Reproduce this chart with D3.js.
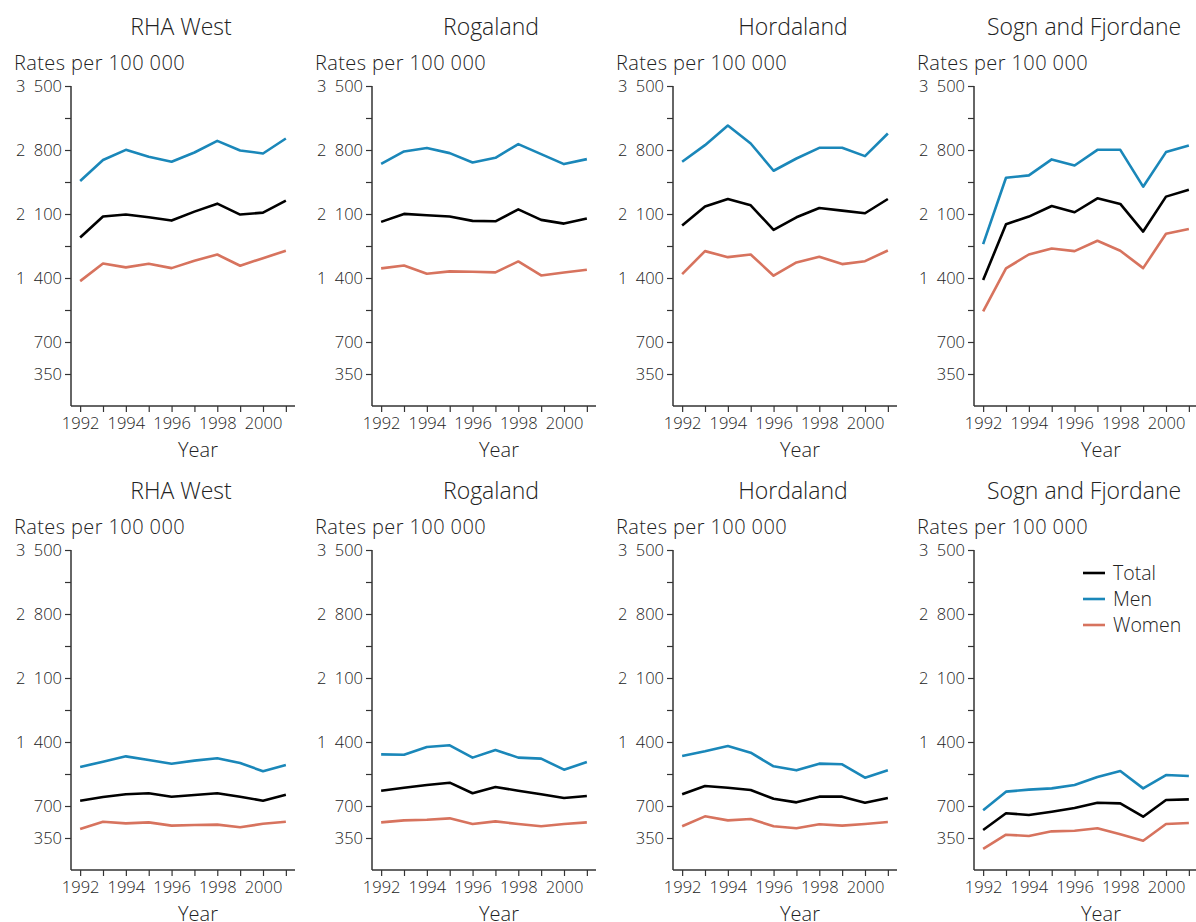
<!DOCTYPE html>
<html>
<head>
<meta charset="utf-8">
<script src="https://cdn.jsdelivr.net/npm/d3@7"></script>
<style>
  body { margin: 0; background: #fff; }
  svg text { font-family: "Open Sans", sans-serif; fill: #222; font-weight: 300; }
</style>
</head>
<body>
<script>
const width = 1196;
const height = 922;

const years = [1992, 1993, 1994, 1995, 1996, 1997, 1998, 1999, 2000, 2001];
const regions = ["RHA West", "Rogaland", "Hordaland", "Sogn and Fjordane"];
const seriesNames = ["Total", "Men", "Women"];
const yTickValues = [350, 700, 1050, 1400, 1750, 2100, 2450, 2800, 3150, 3500];
const yTickLabels = [350, 700, 1400, 2100, 2800, 3500];
const xTickLabels = [1992, 1994, 1996, 1998, 2000];

// upper row
const upperRhaWestTotal = [1843, 2072, 2094, 2064, 2028, 2126, 2213, 2094, 2115, 2246];
const upperRhaWestMen = [2461, 2690, 2802, 2726, 2671, 2773, 2900, 2795, 2762, 2926];
const upperRhaWestWomen = [1366, 1559, 1516, 1556, 1508, 1588, 1657, 1534, 1617, 1698];

const upperRogalandTotal = [2014, 2101, 2086, 2072, 2025, 2020, 2151, 2036, 1995, 2050];
const upperRogalandMen = [2649, 2784, 2821, 2766, 2664, 2715, 2864, 2755, 2646, 2700];
const upperRogalandWomen = [1505, 1537, 1447, 1472, 1468, 1461, 1581, 1428, 1461, 1490];

const upperHordalandTotal = [1973, 2181, 2264, 2195, 1926, 2064, 2166, 2137, 2108, 2264];
const upperHordalandMen = [2671, 2853, 3067, 2871, 2573, 2707, 2824, 2824, 2733, 2980];
const upperHordalandWomen = [1443, 1694, 1628, 1657, 1425, 1570, 1632, 1552, 1584, 1701];

const upperSognTotal = [1377, 1988, 2072, 2188, 2119, 2272, 2210, 1908, 2290, 2366];
const upperSognMen = [1770, 2497, 2522, 2697, 2631, 2802, 2802, 2399, 2777, 2849];
const upperSognWomen = [1036, 1505, 1657, 1723, 1694, 1807, 1698, 1508, 1883, 1937];

// lower row
const lowerRhaWestTotal = [758, 798, 828, 839, 802, 820, 839, 802, 758, 824];
const lowerRhaWestMen = [1127, 1185, 1243, 1203, 1163, 1196, 1222, 1170, 1080, 1148];
const lowerRhaWestWomen = [448, 528, 510, 521, 485, 492, 496, 467, 506, 528];

const lowerRogalandTotal = [867, 900, 930, 955, 839, 908, 867, 828, 788, 810];
const lowerRogalandMen = [1265, 1261, 1345, 1364, 1229, 1313, 1229, 1218, 1097, 1181];
const lowerRogalandWomen = [521, 543, 550, 565, 503, 532, 503, 478, 503, 521];

const lowerHordalandTotal = [828, 919, 900, 875, 780, 740, 802, 802, 736, 788];
const lowerHordalandMen = [1247, 1298, 1356, 1283, 1134, 1090, 1163, 1156, 1010, 1090];
const lowerHordalandWomen = [478, 587, 543, 558, 478, 456, 500, 485, 503, 525];

const lowerSognTotal = [438, 620, 602, 638, 678, 736, 729, 583, 766, 773];
const lowerSognMen = [653, 857, 879, 893, 930, 1017, 1083, 893, 1039, 1028];
const lowerSognWomen = [230, 386, 372, 423, 430, 456, 390, 320, 503, 514];

const colors = { Total: "#000000", Men: "#1a87b9", Women: "#d7735e" };

const panels = [
    [[upperRhaWestTotal, upperRhaWestMen, upperRhaWestWomen],
     [upperRogalandTotal, upperRogalandMen, upperRogalandWomen],
     [upperHordalandTotal, upperHordalandMen, upperHordalandWomen],
     [upperSognTotal, upperSognMen, upperSognWomen]],
    [[lowerRhaWestTotal, lowerRhaWestMen, lowerRhaWestWomen],
     [lowerRogalandTotal, lowerRogalandMen, lowerRogalandWomen],
     [lowerHordalandTotal, lowerHordalandMen, lowerHordalandWomen],
     [lowerSognTotal, lowerSognMen, lowerSognWomen]]
];

// en space as thousands separator, like "3 500"
const locale = d3.formatLocale({ decimal: ",", thousands: "\u2002", grouping: [3] });
const fmt = locale.format(",d");

let svg = d3.select("body")
    .append("svg")
    .attr("width", width)
    .attr("height", height);

const plotW = 224;
const plotH = 320;
const colLeft = [71, 372, 673, 974];
const rowTop = [86, 550];
const titleShift = [110, 119, 120, 110];

let xScale = d3.scaleLinear().domain([1991.6, 2001.4]).range([0, plotW]);
let yScale = d3.scaleLinear().domain([0, 3500]).range([plotH, 0]);

let line = d3.line()
    .x((d, i) => xScale(years[i]))
    .y(d => yScale(d));

panels.forEach((row, r) => {
    row.forEach((series, c) => {
        let g = svg.append("g")
            .attr("transform", `translate(${colLeft[c]}, ${rowTop[r]})`);

        g.append("text")
            .text(regions[c])
            .attr("x", titleShift[c])
            .attr("y", -51)
            .attr("text-anchor", "middle")
            .style("font-size", "23px");

        g.append("text")
            .text("Rates per 100 000")
            .attr("x", -57)
            .attr("y", -16)
            .style("font-size", "20px")
            .style("letter-spacing", "0.4px");

        let leftAxis = d3.axisLeft(yScale)
            .tickValues(yTickValues)
            .tickSize(6)
            .tickPadding(3)
            .tickFormat(d => yTickLabels.includes(d) ? fmt(d) : "");

        let bottomAxis = d3.axisBottom(xScale)
            .tickValues(years)
            .tickSize(6)
            .tickPadding(5)
            .tickFormat(d => xTickLabels.includes(d) ? d : "");

        let la = g.append("g").call(leftAxis);
        let ba = g.append("g").attr("transform", `translate(0, ${plotH})`).call(bottomAxis);

        [la, ba].forEach(a => {
            a.select(".domain").attr("stroke", "#333").attr("stroke-width", 1.5);
            a.selectAll(".tick line").attr("stroke", "#333").attr("stroke-width", 1.2);
            a.selectAll(".tick text").style("font-size", "16.5px").attr("fill", "#222");
        });
        // keep the axis lines square at the corner
        la.select(".domain").attr("d", `M0,0V${plotH}`);
        ba.select(".domain").attr("d", `M0,0H${plotW}`);

        g.append("text")
            .text("Year")
            .attr("x", 127)
            .attr("y", plotH + 51)
            .attr("text-anchor", "middle")
            .style("font-size", "20px");

        // draw women, men, then total on top
        [2, 1, 0].forEach(k => {
            g.append("path")
                .datum(series[k])
                .attr("d", line)
                .attr("fill", "none")
                .attr("stroke", colors[seriesNames[k]])
                .attr("stroke-width", 2.6)
                .attr("stroke-linejoin", "round");
        });
    });
});

// legend in the lower right panel
let legend = svg.append("g")
    .attr("transform", `translate(1083, 573)`);

seriesNames.forEach((name, i) => {
    legend.append("line")
        .attr("x1", 0).attr("x2", 22)
        .attr("y1", i * 26).attr("y2", i * 26)
        .attr("stroke", colors[name])
        .attr("stroke-width", 2.6);
    legend.append("text")
        .text(name)
        .attr("x", 30)
        .attr("y", i * 26)
        .attr("dy", "0.35em")
        .style("font-size", "19.5px");
});
</script>
</body>
</html>
